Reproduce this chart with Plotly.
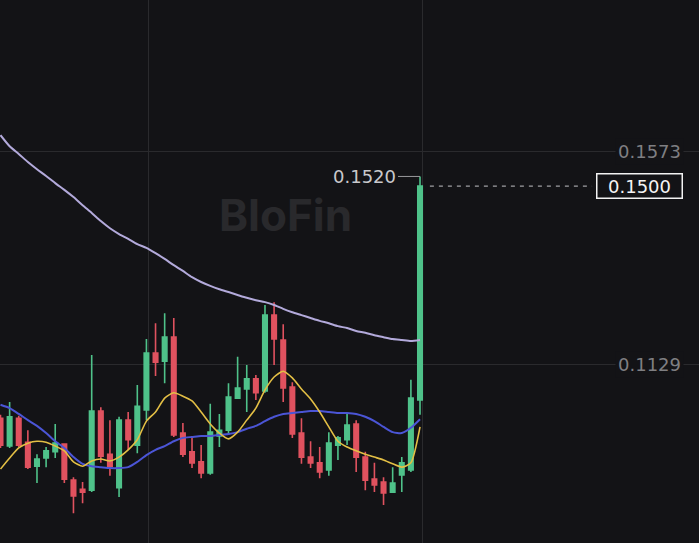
import plotly.graph_objects as go

# ---- price data (one candle per period) ----
opens = [0.1016, 0.0958, 0.1016, 0.0966, 0.0916, 0.0933, 0.0946, 0.0962, 0.0887, 0.0868,
         0.0866, 0.1031, 0.0941, 0.0871, 0.1012, 0.0960, 0.1033, 0.1152, 0.1135, 0.1185,
         0.0985, 0.0946, 0.0925, 0.0902, 0.0979, 0.0991, 0.1058, 0.1077, 0.1098, 0.1073,
         0.1231, 0.1179, 0.1081, 0.0985, 0.0935, 0.0923, 0.0908, 0.0960, 0.0971, 0.1004,
         0.0935, 0.0889, 0.0883, 0.0862, 0.0898, 0.0908, 0.1054]
highs = [0.1023, 0.1050, 0.1021, 0.0991, 0.0941, 0.0956, 0.1004, 0.0964, 0.0893, 0.0883,
         0.1148, 0.1039, 0.1012, 0.1019, 0.1029, 0.1085, 0.1181, 0.1214, 0.1235, 0.1225,
         0.1006, 0.0979, 0.0960, 0.1046, 0.1025, 0.1089, 0.1144, 0.1127, 0.1106, 0.1252,
         0.1258, 0.1212, 0.1091, 0.1016, 0.0968, 0.0956, 0.0987, 0.0979, 0.1027, 0.1012,
         0.0946, 0.0923, 0.0893, 0.0914, 0.0935, 0.1096, 0.1520]
lows = [0.0954, 0.0954, 0.0956, 0.0910, 0.0881, 0.0914, 0.0933, 0.0881, 0.0818, 0.0839,
        0.0862, 0.0923, 0.0896, 0.0852, 0.0950, 0.0943, 0.1012, 0.1104, 0.1089, 0.0977,
        0.0935, 0.0912, 0.0891, 0.0898, 0.0956, 0.0981, 0.1056, 0.1029, 0.1054, 0.1069,
        0.1127, 0.1050, 0.0975, 0.0921, 0.0912, 0.0891, 0.0896, 0.0929, 0.0960, 0.0904,
        0.0866, 0.0862, 0.0835, 0.0860, 0.0862, 0.0904, 0.1023]
closes = [0.0960, 0.1019, 0.0960, 0.0914, 0.0931, 0.0948, 0.0964, 0.0889, 0.0854, 0.0862,
          0.1031, 0.0937, 0.0916, 0.1012, 0.0971, 0.1041, 0.1152, 0.1133, 0.1185, 0.0981,
          0.0941, 0.0923, 0.0902, 0.0987, 0.0991, 0.1060, 0.1079, 0.1098, 0.1069, 0.1231,
          0.1181, 0.1079, 0.0983, 0.0935, 0.0923, 0.0904, 0.0964, 0.0975, 0.1002, 0.0935,
          0.0887, 0.0877, 0.0860, 0.0881, 0.0923, 0.1058, 0.1500]

# ---- moving averages ----
ma_long = [0.1606, 0.1583, 0.1567, 0.1550, 0.1535, 0.1521, 0.1506, 0.1492, 0.1477, 0.1460,
           0.1444, 0.1427, 0.1412, 0.1400, 0.1390, 0.1379, 0.1371, 0.1360, 0.1348, 0.1335,
           0.1323, 0.1310, 0.1300, 0.1292, 0.1285, 0.1279, 0.1273, 0.1267, 0.1262, 0.1258,
           0.1252, 0.1244, 0.1237, 0.1231, 0.1225, 0.1219, 0.1214, 0.1208, 0.1204, 0.1198,
           0.1194, 0.1189, 0.1185, 0.1181, 0.1179, 0.1177, 0.1179]
ma_mid = [0.1044, 0.1037, 0.1025, 0.1012, 0.1000, 0.0985, 0.0968, 0.0954, 0.0935, 0.0921,
          0.0916, 0.0914, 0.0912, 0.0912, 0.0914, 0.0925, 0.0939, 0.0950, 0.0958, 0.0968,
          0.0975, 0.0977, 0.0979, 0.0979, 0.0981, 0.0983, 0.0987, 0.0994, 0.1000, 0.1010,
          0.1019, 0.1025, 0.1027, 0.1029, 0.1031, 0.1031, 0.1029, 0.1027, 0.1027, 0.1025,
          0.1019, 0.1010, 0.0998, 0.0987, 0.0985, 0.0996, 0.1014]
ma_short = [0.0910, 0.0933, 0.0954, 0.0964, 0.0968, 0.0966, 0.0958, 0.0948, 0.0925, 0.0916,
            0.0927, 0.0931, 0.0927, 0.0935, 0.0950, 0.0971, 0.1010, 0.1029, 0.1058, 0.1069,
            0.1062, 0.1052, 0.1029, 0.1004, 0.0985, 0.0973, 0.0987, 0.1012, 0.1037, 0.1075,
            0.1102, 0.1114, 0.1100, 0.1077, 0.1056, 0.1029, 0.0998, 0.0968, 0.0956, 0.0948,
            0.0941, 0.0935, 0.0929, 0.0921, 0.0914, 0.0923, 0.0998]

# ---- axis labels ----
price_ticks = [0.1129, 0.1573]
price_tick_text = ["0.1129", "0.1573"]
high_label = "0.1520"
last_price = 0.1500
last_price_text = "0.1500"
watermark = "BloFin"

BG = "#131316"
GRID = "#2a2a2d"
UP = "#4fc28a"
DOWN = "#e0525f"
LABEL_FONT = "DejaVu Sans"

idx = list(range(len(opens)))

fig = go.Figure()

for vals, color, width in [(ma_long, "#b3aadb", 2), (ma_mid, "#4b55d6", 2), (ma_short, "#e3bf45", 1.6)]:
    fig.add_trace(go.Scatter(x=idx, y=vals, mode="lines",
                             line=dict(color=color, width=width, shape="spline", smoothing=0.6),
                             hoverinfo="skip", showlegend=False))

fig.add_trace(go.Candlestick(
    x=idx, open=opens, high=highs, low=lows, close=closes,
    increasing=dict(line=dict(color=UP, width=1.6), fillcolor=UP),
    decreasing=dict(line=dict(color=DOWN, width=1.6), fillcolor=DOWN),
    whiskerwidth=0, hoverinfo="skip", showlegend=False,
))

annotations = [
    dict(text=f"<b>{watermark}</b>", xref="paper", yref="paper", x=0.408, y=0.604,
         showarrow=False, font=dict(family="Inter", size=44, color="#29292c")),
]
for v, t in zip(price_ticks, price_tick_text):
    annotations.append(dict(text=t, xref="paper", yref="y", x=0.978, y=v, xanchor="right",
                            showarrow=False, bgcolor=BG, borderpad=2,
                            font=dict(family=LABEL_FONT, size=18, color="#7f7f82")))

annotations.append(dict(text=high_label, xref="x", yref="y", x=idx[-1], y=max(highs),
                        showarrow=True, arrowhead=0, arrowwidth=1, arrowcolor="#9a9a9d",
                        ax=-22, ay=0, xanchor="right",
                        font=dict(family=LABEL_FONT, size=18, color="#c9c9cc")))
annotations.append(dict(text=last_price_text, xref="paper", yref="y", x=0.977, y=last_price,
                        xanchor="right", showarrow=False, bgcolor=BG,
                        bordercolor="#f2f2f2", borderwidth=1.5, borderpad=1,
                        width=82, height=21,
                        font=dict(family=LABEL_FONT, size=18, color="#f4f4f4")))

shapes = [dict(type="line", xref="paper", yref="y", x0=0.615, x1=0.847,
               y0=last_price, y1=last_price,
               line=dict(color="#a0a0a3", width=1.2, dash="4px,5px"))]

fig.update_layout(
    width=699, height=543, autosize=False,
    margin=dict(l=0, r=0, t=0, b=0),
    paper_bgcolor=BG, plot_bgcolor=BG,
    showlegend=False,
    annotations=annotations, shapes=shapes,
    xaxis=dict(range=[-0.055, 76.59], tickvals=[16.2, 46.3], showticklabels=False,
               showgrid=True, gridcolor=GRID, gridwidth=1, zeroline=False,
               showline=False, rangeslider=dict(visible=False), fixedrange=True),
    yaxis=dict(range=[0.07559, 0.18878], tickvals=price_ticks, showticklabels=False,
               showgrid=True, gridcolor=GRID, gridwidth=1, zeroline=False,
               showline=False, fixedrange=True),
)

fig.write_html("out.html", config={"displayModeBar": False})
